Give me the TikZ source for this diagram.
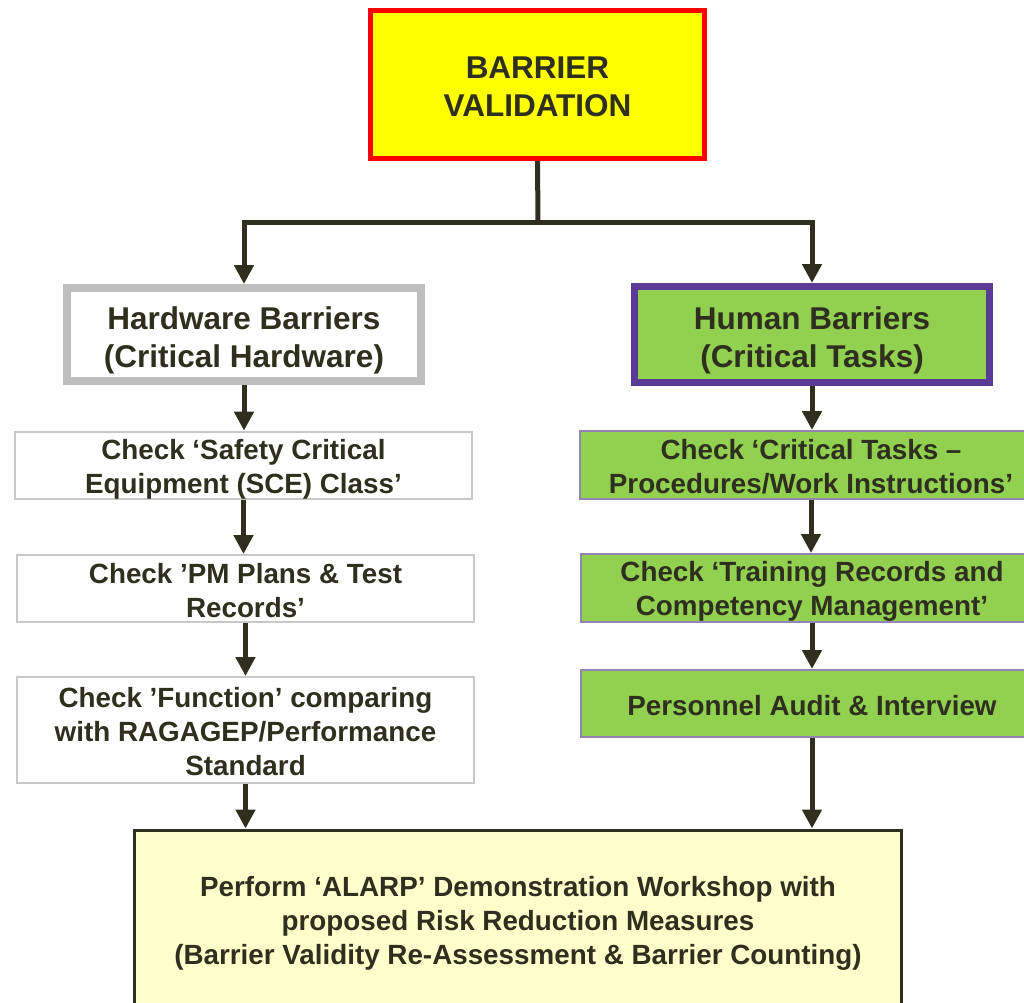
\documentclass[tikz,border=0pt]{standalone}
\usepackage{fontspec}
\setmainfont{Liberation Sans}
\usetikzlibrary{arrows.meta}
\definecolor{ink}{HTML}{2F2F1F}
\definecolor{topfill}{HTML}{FFFF00}
\definecolor{topline}{HTML}{FF0000}
\definecolor{hwline}{HTML}{BEBEBE}
\definecolor{chkline}{HTML}{C8C8C8}
\definecolor{humfill}{HTML}{92D050}
\definecolor{humline}{HTML}{5C3B97}
\definecolor{taskline}{HTML}{9484B4}
\definecolor{endfill}{HTML}{FFFFCC}
% a strut on the first line sets how low the text sits in its box
\newcommand\firstline[1]{\rule{0pt}{#1}}
\begin{document}
\begin{tikzpicture}[x=1pt,y=-1pt,
  box/.style={rectangle,inner sep=0pt,align=center,text=ink,font=\bfseries},
  bigtxt/.style={font=\fontsize{31.5}{38}\selectfont\bfseries},
  smalltxt/.style={font=\fontsize{27.8}{34}\selectfont\bfseries},
  arr/.style={draw=ink,line width=5pt,-{Triangle[width=19pt,length=19pt]}},
  link/.style={draw=ink,line width=5pt}]
\useasboundingbox (0,0) rectangle (1024,1002);
\clip (0,0) rectangle (1024,1002);

% top node
\node[box,bigtxt,draw=topline,fill=topfill,line width=5pt,
      minimum width=334pt,minimum height=148pt] (top) at (537.5,84.5)
      {\firstline{27pt}BARRIER\\VALIDATION};

% the two barrier families
\node[box,bigtxt,draw=hwline,fill=white,line width=8pt,
      minimum width=354pt,minimum height=93pt] (hw) at (244,334.5)
      {\firstline{34pt}Hardware Barriers\\(Critical Hardware)};
\node[box,bigtxt,draw=humline,fill=humfill,line width=7pt,
      minimum width=355pt,minimum height=96pt] (hum) at (812,334.5)
      {\firstline{34pt}Human Barriers\\(Critical Tasks)};

% hardware checks
\node[box,smalltxt,draw=chkline,fill=white,line width=2pt,
      minimum width=457pt,minimum height=67pt] (sce) at (243.5,465.5)
      {\firstline{28pt}Check ‘Safety Critical\\Equipment (SCE) Class’};
\node[box,smalltxt,draw=chkline,fill=white,line width=2pt,
      minimum width=457pt,minimum height=67pt] (pm) at (245.5,588.5)
      {\firstline{25pt}Check ’PM Plans \& Test\\Records’};
\node[box,smalltxt,draw=chkline,fill=white,line width=2pt,
      minimum width=457pt,minimum height=106pt] (func) at (245.5,730)
      {\firstline{23pt}Check ’Function’ comparing\\with RAGAGEP/Performance\\Standard};

% human checks
\node[box,smalltxt,draw=taskline,fill=humfill,line width=2pt,
      minimum width=462pt,minimum height=68pt] (task) at (811,465)
      {\firstline{24pt}Check ‘Critical Tasks –\\Procedures/Work Instructions’};
\node[box,smalltxt,draw=taskline,fill=humfill,line width=2pt,
      minimum width=462pt,minimum height=68pt] (train) at (812,588)
      {\firstline{27pt}Check ‘Training Records and\\Competency Management’};
\node[box,smalltxt,draw=taskline,fill=humfill,line width=2pt,
      minimum width=462pt,minimum height=67pt] (audit) at (812,703.5)
      {\firstline{24pt}Personnel Audit \& Interview};

% workshop
\node[box,smalltxt,draw=ink,fill=endfill,line width=3pt,
      minimum width=767pt,minimum height=180pt] (alarp) at (518,920)
      {\firstline{26pt}Perform ‘ALARP’ Demonstration Workshop with\\proposed Risk Reduction Measures\\(Barrier Validity Re-Assessment \& Barrier Counting)};

% connectors
\coordinate (split) at (538,222);
\draw[link] (top.south) -- (split);
\draw[arr] (split) -| (hw.north);
\draw[arr] (split) -| (hum.north);

\draw[arr] (hw.south) -- (hw.south |- sce.north);
\draw[arr] (sce.south) -- (sce.south |- pm.north);
\draw[arr] (pm.south) -- (pm.south |- func.north);
\draw[arr] (func.south) -- (func.south |- alarp.north);

\draw[arr] (hum.south) -- (hum.south |- task.north);
\draw[arr] (task.south) -- (task.south |- train.north);
\draw[arr] (train.south) -- (train.south |- audit.north);
\draw[arr] (audit.south) -- (audit.south |- alarp.north);
\end{tikzpicture}
\end{document}
